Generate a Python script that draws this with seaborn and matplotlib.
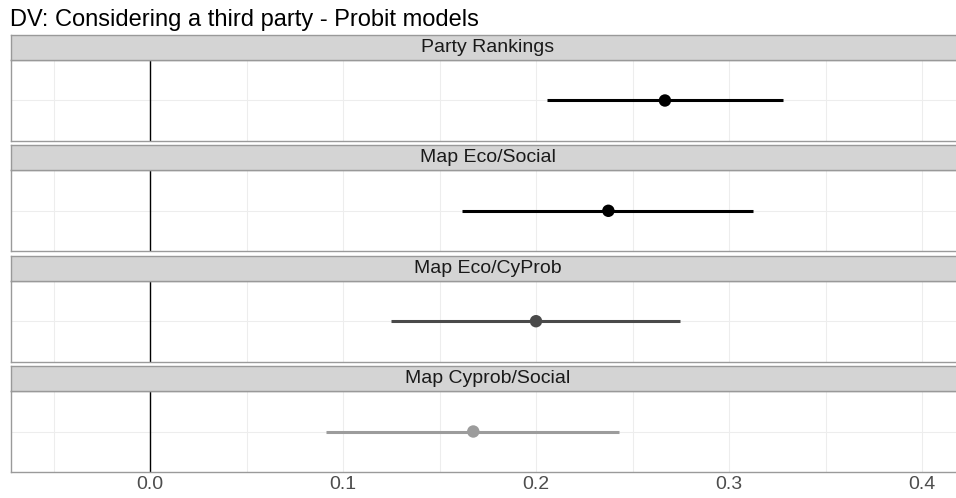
import matplotlib
matplotlib.use("Agg")
import matplotlib.pyplot as plt
import seaborn as sns
import pandas as pd

models = ["Party Rankings", "Map Eco/Social", "Map Eco/CyProb", "Map Cyprob/Social"]
estimates = [0.2668, 0.2375, 0.2000, 0.1675]
ci_low = [0.2055, 0.1617, 0.1247, 0.0912]
ci_high = [0.3278, 0.3126, 0.2746, 0.2432]
colors = ["#000000", "#000000", "#4a4a4a", "#9c9c9c"]
xticks = [0.0, 0.1, 0.2, 0.3, 0.4]
xticklabels = ["0.0", "0.1", "0.2", "0.3", "0.4"]
title = "DV: Considering a third party - Probit models"

df = pd.DataFrame({"model": models, "est": estimates, "lo": ci_low, "hi": ci_high, "y": [0] * 4})

sns.set_theme(style="white")
plt.rcParams["font.family"] = ["Liberation Sans", "DejaVu Sans"]

W, H = 956, 498
fig = plt.figure(figsize=(W / 100, H / 100), dpi=100)

def fy(px):
    return 1 - px / H

left_px, right_px = 11, 965
zero_px, px_per_unit = 150, 1930
xlim = ((left_px - zero_px) / px_per_unit, (right_px - zero_px) / px_per_unit)
strip_tops = [35, 145.3, 255.7, 366]
strip_h = 25
panel_h = 81

for i, m in enumerate(models):
    st = strip_tops[i]
    pt = st + strip_h
    ax = fig.add_axes([left_px / W, fy(pt + panel_h), (right_px - left_px) / W, panel_h / H])
    sub = df[df.model == m]
    ax.set_xlim(*xlim)
    ax.set_ylim(-1, 1)
    for gx in [-0.05, 0.0, 0.05, 0.1, 0.15, 0.2, 0.25, 0.3, 0.35, 0.4]:
        ax.axvline(gx, color="#ededed", lw=0.8, zorder=0)
    ax.axhline(0, color="#ededed", lw=0.8, zorder=0)
    ax.axvline(0, color="black", lw=1.0, zorder=1)
    ax.hlines(sub["y"], sub["lo"], sub["hi"], color=colors[i], lw=2.2, zorder=2)
    sns.scatterplot(data=sub, x="est", y="y", ax=ax, color=colors[i], s=80,
                    edgecolor="none", zorder=3, legend=False)
    ax.set_xlabel("")
    ax.set_ylabel("")
    ax.set_yticks([])
    ax.tick_params(axis="x", length=0, pad=3, labelsize=14, colors="#4d4d4d")
    if i == len(models) - 1:
        ax.set_xticks(xticks)
        ax.set_xticklabels(xticklabels)
    else:
        ax.set_xticks([])
    for s in ax.spines.values():
        s.set_color("#9a9a9a")
        s.set_linewidth(1.0)

    sax = fig.add_axes([left_px / W, fy(st + strip_h), (right_px - left_px) / W, strip_h / H])
    sax.set_xticks([])
    sax.set_yticks([])
    sax.set_facecolor("#d4d4d4")
    for s in sax.spines.values():
        s.set_color("#999999")
        s.set_linewidth(1.0)
    sax.text(0.5, 0.5, m, transform=sax.transAxes,
             ha="center", va="center", fontsize=14, color="#1a1a1a")

fig.text(10 / W, fy(20), title, ha="left", va="center", fontsize=17, color="black")

fig.savefig("out.png", dpi=100)
